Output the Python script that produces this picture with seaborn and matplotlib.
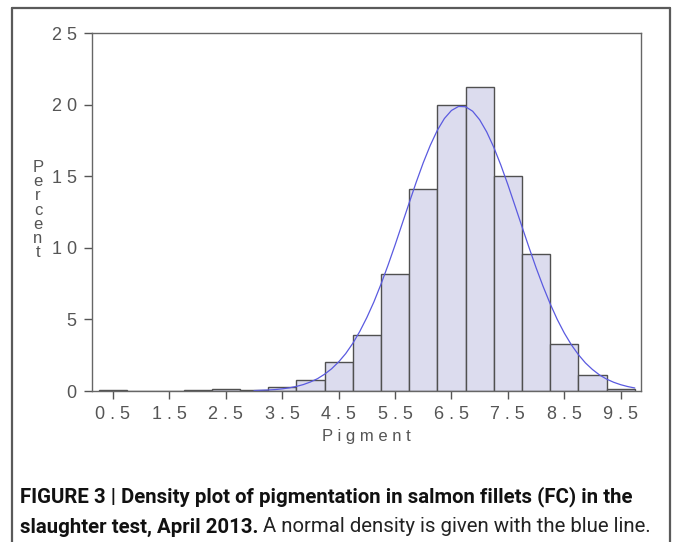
import numpy as np
import pandas as pd
import matplotlib
matplotlib.use("Agg")
import matplotlib.pyplot as plt
from matplotlib.lines import Line2D
import seaborn as sns

# ---- data ----
bin_centers = [0.5, 1.0, 1.5, 2.0, 2.5, 3.0, 3.5, 4.0, 4.5, 5.0, 5.5, 6.0, 6.5,
               7.0, 7.5, 8.0, 8.5, 9.0, 9.5]
percent = [0.05, 0.0, 0.0, 0.05, 0.15, 0.05, 0.25, 0.8, 2.0, 3.9, 8.2, 14.1, 20.0,
           21.2, 15.0, 9.6, 3.3, 1.1, 0.12]
curve_x = [3.0, 3.125, 3.25, 3.375, 3.5, 3.625, 3.75, 3.875, 4.0, 4.125, 4.25,
           4.375, 4.5, 4.625, 4.75, 4.875, 5.0, 5.125, 5.25, 5.375, 5.5, 5.625,
           5.75, 5.875, 6.0, 6.125, 6.25, 6.375, 6.5, 6.625, 6.75, 6.875, 7.0,
           7.125, 7.25, 7.375, 7.5, 7.625, 7.75, 7.875, 8.0, 8.125, 8.25, 8.375,
           8.5, 8.625, 8.75, 8.875, 9.0, 9.125, 9.25, 9.375, 9.5, 9.625, 9.75]
curve_y = [0.03, 0.05, 0.07, 0.10, 0.15, 0.22, 0.32, 0.45, 0.63, 0.86, 1.17,
           1.55, 2.03, 2.61, 3.32, 4.16, 5.13, 6.22, 7.45, 8.78, 10.19, 11.66,
           13.13, 14.58, 15.94, 17.16, 18.21, 19.03, 19.59, 19.87, 19.85, 19.54,
           18.94, 18.09, 17.02, 15.78, 14.41, 12.95, 11.48, 10.02, 8.61, 7.30,
           6.09, 5.00, 4.05, 3.23, 2.54, 1.96, 1.50, 1.12, 0.83, 0.61, 0.44,
           0.31, 0.21]
xtick_major = [0.5, 1.5, 2.5, 3.5, 4.5, 5.5, 6.5, 7.5, 8.5, 9.5]
xtick_labels = ["0 . 5", "1 . 5", "2 . 5", "3 . 5", "4 . 5", "5 . 5", "6 . 5",
                "7 . 5", "8 . 5", "9 . 5"]
xtick_minor = [1.0, 2.0, 3.0, 4.0, 5.0, 6.0, 7.0, 8.0, 9.0]
ytick_vals = [0, 5, 10, 15, 20, 25]
ytick_labels = ["0", "5", "1 0", "1 5", "2 0", "2 5"]
x_label = "P i g m e n t"
y_label = "Percent"
caption_bold_1 = "FIGURE 3 | Density plot of pigmentation in salmon fillets (FC) in the"
caption_bold_2 = "slaughter test, April 2013."
caption_norm_2 = " A normal density is given with the blue line."

sns.set_style("white")
plt.rcParams['font.family'] = ['Liberation Sans', 'DejaVu Sans']

W, H = 673, 542
fig = plt.figure(figsize=(W / 100, H / 100), dpi=100)

def fx(px):
    return px / W

def fy(py):
    return 1 - py / H

ax = fig.add_axes([fx(92), fy(391), fx(641) - fx(92), fy(33) - fy(391)])

df = pd.DataFrame({"center": bin_centers, "pct": percent})
edges = [c - 0.25 for c in bin_centers] + [bin_centers[-1] + 0.25]
sns.histplot(data=df, x="center", weights="pct", bins=edges, stat="count",
             color="#dcdcee", alpha=1.0, edgecolor="#505050", linewidth=1.0, ax=ax)

cdf = pd.DataFrame({"x": curve_x, "y": curve_y})
sns.lineplot(data=cdf, x="x", y="y", color="#5a5ae0", linewidth=0.9, ax=ax,
             sort=False)

tick_col = "#555555"
ax.set_xlim(0.128, 9.86)
ax.set_ylim(0, 25)
ax.set_xticks(xtick_major)
ax.set_xticklabels(xtick_labels)
ax.set_xticks(xtick_minor, minor=True)
ax.set_yticks(ytick_vals)
ax.set_yticklabels(ytick_labels)
ax.tick_params(axis="both", which="both", direction="out", color="#555555",
               width=1.0, labelcolor=tick_col, labelsize=13)
ax.tick_params(axis="both", which="major", length=6, pad=5)
ax.tick_params(axis="x", which="minor", length=6)
ax.tick_params(axis="x", which="major", pad=5)
ax.tick_params(bottom=True, left=True)
ax.set_xlabel("")
ax.set_ylabel("")
for s in ax.spines.values():
    s.set_visible(True)
    s.set_color("#666666")
    s.set_linewidth(1.0)

fig.text(fx(366), fy(437), x_label, ha="center", va="center",
         fontsize=12, color=tick_col)
fig.text(fx(38), fy(210), "\n".join(y_label), ha="center", va="center",
         fontsize=12, color=tick_col, linespacing=0.92)

# outer frame (left, top, right edges)
fc = "#5a5a5a"
fig.add_artist(Line2D([fx(12), fx(12)], [0, fy(7.5)], color=fc, lw=1.6))
fig.add_artist(Line2D([fx(12), fx(670)], [fy(7.5), fy(7.5)], color=fc, lw=1.6))
fig.add_artist(Line2D([fx(670), fx(670)], [fy(7.5), 0], color=fc, lw=1.6))

# caption
cap_font = ['Roboto', 'DejaVu Sans']
t1 = fig.text(fx(20), fy(497), caption_bold_1, ha="left", va="center",
              fontsize=15, fontweight="bold", family=cap_font, color="#111111")
renderer = fig.canvas.get_renderer()
w1 = t1.get_window_extent(renderer).width
fs = 15 * 615 / w1
t1.set_fontsize(fs)
t2 = fig.text(fx(20), fy(527), caption_bold_2, ha="left", va="center",
              fontsize=fs, fontweight="bold", family=cap_font, color="#111111")
bb = t2.get_window_extent(renderer)
fig.text(bb.x1 / W, fy(527), caption_norm_2, ha="left", va="center",
         fontsize=fs, family=cap_font, color="#222222")

fig.savefig("out.png", dpi=100)
